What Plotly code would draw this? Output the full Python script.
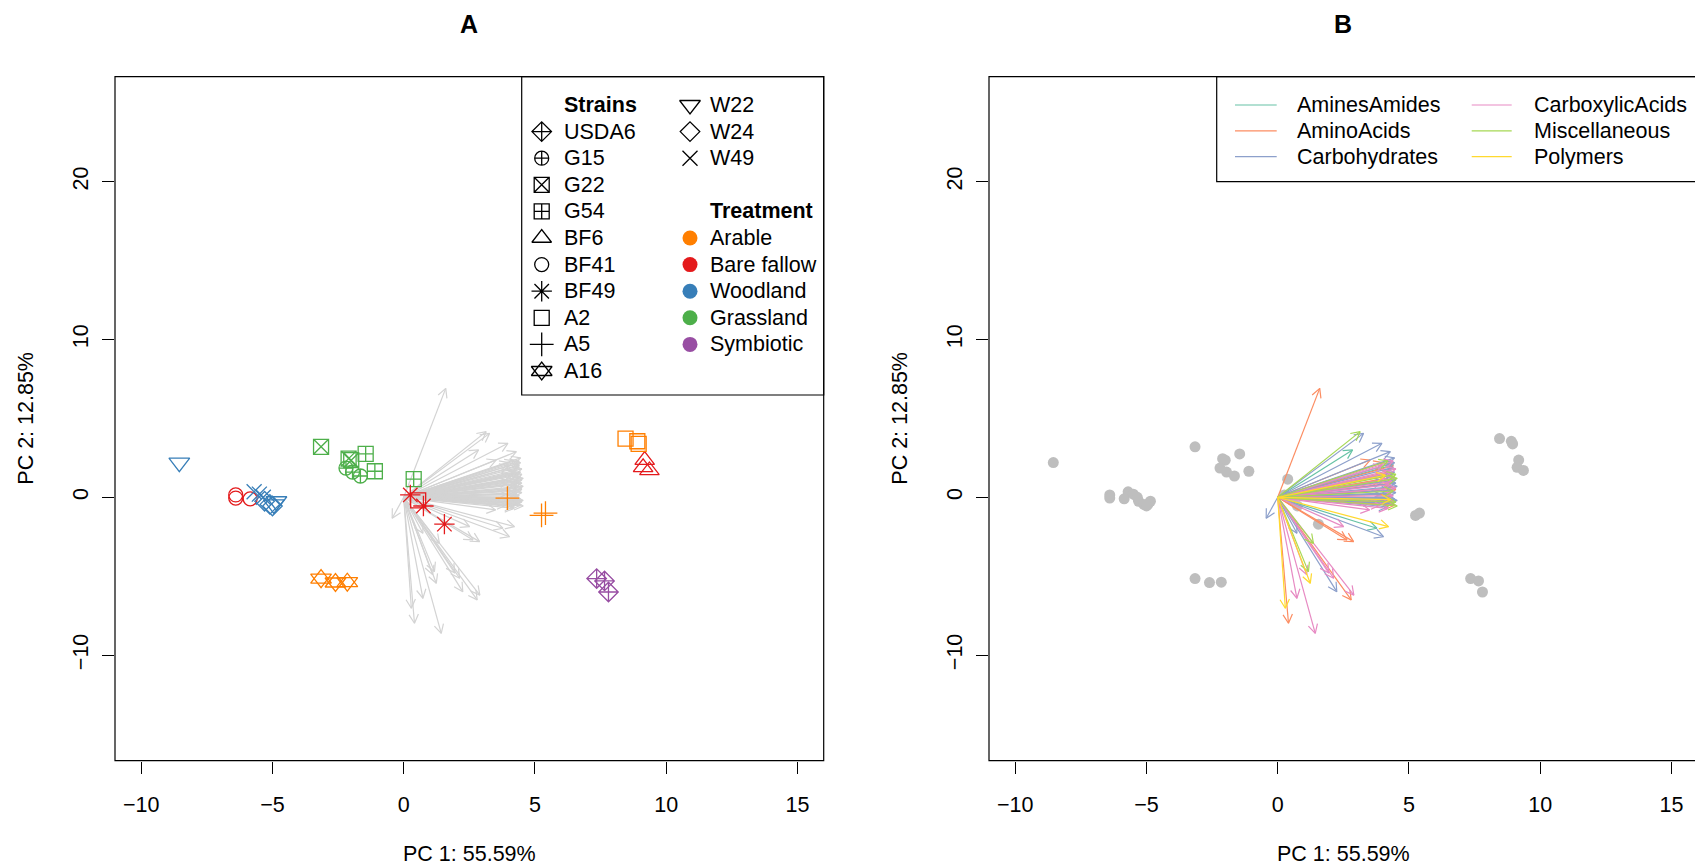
import math
import plotly.graph_objects as go

W, H = 1695, 868
FONT = "Liberation Sans, Arial, sans-serif"

# ---------------- data: sample scores ----------------
pc1 = [-8.55, -4.95, -4.85, -5.30, -5.10, -5.00, -5.70, -5.50, -5.35,
       -6.40, -6.40, -5.85,
       -3.15, -2.10, -2.00, -1.45, -1.10, 0.38, -2.20, -1.95, -1.65,
       -3.15, -2.60, -2.15,
       0.25, 0.75, 1.55, 0.55,
       3.95, 5.25, 5.40,
       8.45, 8.90, 8.95,
       9.18, 9.12, 9.36,
       7.35, 7.65, 7.80]
pc2 = [2.20, -0.45, -0.25, -0.25, -0.45, -0.55, 0.35, 0.20, 0.00,
       0.15, -0.05, -0.10,
       3.20, 2.45, 2.35, 2.75, 1.65, 1.15, 1.85, 1.60, 1.35,
       -5.15, -5.40, -5.38,
       0.15, -0.55, -1.70, -0.20,
       -0.05, -1.15, -1.00,
       3.72, 3.55, 3.38,
       2.36, 1.90, 1.70,
       -5.15, -5.30, -6.00]
strain = ["W22", "W22", "W22", "W24", "W24", "W24", "W49", "W49", "W49",
          "BF41", "BF41", "BF41",
          "G22", "G22", "G22", "G54", "G54", "G54", "G15", "G15", "G15",
          "A16", "A16", "A16",
          "BF49", "BF49", "BF49", "A2",
          "A5", "A5", "A5",
          "A2", "A2", "A2",
          "BF6", "BF6", "BF6",
          "USDA6", "USDA6", "USDA6"]
treatment = ["Woodland"] * 9 + ["Bare fallow"] * 3 + ["Grassland"] * 9 + ["Arable"] * 3 + \
            ["Bare fallow"] * 4 + ["Arable"] * 6 + ["Bare fallow"] * 3 + ["Symbiotic"] * 3

strain_order = ["USDA6", "G15", "G22", "G54", "BF6", "BF41", "BF49", "A2", "A5", "A16",
                "W22", "W24", "W49"]
treat_order = ["Arable", "Bare fallow", "Woodland", "Grassland", "Symbiotic"]

# ---------------- data: substrate loadings (arrow tips) ----------------
load_cat = []
load_x = []
load_y = []

def add(cat, pts):
    for (a, b) in pts:
        load_cat.append(cat); load_x.append(a); load_y.append(b)

add("AminesAmides", [(2.85, 3.00), (4.35, 1.50), (4.30, 0.60), (4.25, -0.40),
                     (3.78, -1.96), (4.40, 2.05), (3.60, -0.30)])
add("AminoAcids", [(1.60, 6.90), (3.52, 2.36), (4.40, 2.00), (4.45, 1.30), (4.50, 0.50),
                   (4.40, -0.20), (4.30, 0.90), (4.20, 1.60), (2.89, -2.81), (2.80, -6.50),
                   (0.41, -7.98), (4.00, 2.20), (4.45, -0.50), (4.30, 0.20), (2.64, -2.70),
                   (3.90, 1.10), (4.10, -0.30)])
add("Carbohydrates", [(3.27, 4.05), (3.97, 3.42), (4.29, 2.89), (4.45, 2.50), (4.40, 1.90),
                      (4.50, 1.10), (4.55, 0.70), (4.50, 0.30), (4.45, -0.10), (4.40, -0.40),
                      (4.35, 0.00), (4.03, -2.50), (-0.44, -1.33), (0.73, -2.28), (2.25, -5.98),
                      (4.40, 1.50), (4.30, 0.45), (4.20, -0.60), (4.00, 1.00), (3.90, 0.20),
                      (4.45, 2.20), (4.50, 0.90), (4.45, 1.60), (4.55, -0.20)])
add("CarboxylicAcids", [(4.40, 2.30), (4.50, 1.80), (4.40, 1.20), (4.30, 0.80), (4.20, -0.70),
                        (2.51, -1.86), (2.13, -5.13), (0.73, -6.40), (1.43, -8.62), (2.90, -6.20),
                        (1.95, -4.80), (4.40, 0.10), (4.30, 1.60), (3.90, -0.50), (4.00, 2.00),
                        (4.45, -0.30), (1.10, -4.90), (4.35, 1.00), (3.50, -0.80), (4.50, 0.60)])
add("Miscellaneous", [(3.14, 4.16), (4.50, 1.45), (4.55, 1.20), (4.50, -0.30), (4.55, -0.55),
                      (1.36, -2.92), (1.17, -4.71), (4.40, 0.40), (4.20, 2.30)])
add("Polymers", [(4.22, -1.86), (1.24, -5.45), (0.29, -7.03), (4.10, 1.40), (4.30, -0.15)])

cat_order = ["AminesAmides", "AminoAcids", "Carbohydrates", "CarboxylicAcids",
             "Miscellaneous", "Polymers"]

# ---------------- styles ----------------
treat_col = {"Arable": "#FF7F00", "Bare fallow": "#E41A1C", "Woodland": "#377EB8",
             "Grassland": "#4DAF4A", "Symbiotic": "#984EA3"}
cat_col = {"AminesAmides": "#66C2A5", "AminoAcids": "#FC8D62", "Carbohydrates": "#8DA0CB",
           "CarboxylicAcids": "#E78AC3", "Miscellaneous": "#A6D854", "Polymers": "#FFD92F"}
# list of (plotly symbol, size) per strain (A16 = two overlaid triangles)
sym = {"USDA6": [("diamond-cross-open", 15)], "G15": [("circle-cross-open", 14)],
       "G22": [("square-x-open", 15)], "G54": [("square-cross-open", 15)],
       "BF6": [("triangle-up-open", 17)], "BF41": [("circle-open", 14)],
       "BF49": [("asterisk-open", 17)], "A2": [("square-open", 15)],
       "A5": [("cross-thin-open", 17)],
       "A16": [("triangle-up-open", 18), ("triangle-down-open", 18)],
       "W22": [("triangle-down-open", 18)], "W24": [("diamond-open", 15)],
       "W49": [("x-thin-open", 15)]}

# ---------------- geometry (pixels) ----------------
TOP, BOT = 76.7, 760.7
AL, AR = 115.0, 823.7
BL = 989.0
XR = [-11.0, 16.0]
YR = [-16.69, 26.65]
SX = (AR - AL) / (XR[1] - XR[0])
SY = (BOT - TOP) / (YR[1] - YR[0])
XR_B = [XR[0], XR[0] + (W - BL) / SX]

ydom = [1 - BOT / H, 1 - TOP / H]


def arrow_path(xs, ys, L=10.0, ang=math.radians(28)):
    px, py = [], []
    for x, y in zip(xs, ys):
        gx, gy = x * SX, y * SY
        n = math.hypot(gx, gy)
        ux, uy = -gx / n, -gy / n
        px += [0, x, None]
        py += [0, y, None]
        for s in (1, -1):
            c, si = math.cos(s * ang), math.sin(s * ang)
            hx = c * ux - si * uy
            hy = si * ux + c * uy
            px.append(x + L * hx / SX)
            py.append(y + L * hy / SY)
            if s == 1:
                px.append(x); py.append(y)
        px.append(None); py.append(None)
    return px, py


fig = go.Figure()

# ---- Panel A: grey arrows ----
ax_, ay_ = arrow_path(load_x, load_y)
fig.add_trace(go.Scatter(x=ax_, y=ay_, mode="lines", line=dict(color="#D3D3D3", width=1.2),
                         xaxis="x", yaxis="y", hoverinfo="skip", showlegend=False))

# ---- Panel A: points ----
for st in strain_order:
    for tr in treat_order:
        idx = [i for i in range(len(pc1)) if strain[i] == st and treatment[i] == tr]
        if not idx:
            continue
        for (s, sz) in sym[st]:
            fig.add_trace(go.Scatter(
                x=[pc1[i] for i in idx], y=[pc2[i] for i in idx], mode="markers",
                marker=dict(symbol=s, size=sz, color=treat_col[tr],
                            line=dict(color=treat_col[tr], width=1.3)),
                xaxis="x", yaxis="y", showlegend=False))

# ---- Panel B: grey points then coloured arrows ----
fig.add_trace(go.Scatter(x=pc1, y=pc2, mode="markers",
                         marker=dict(symbol="circle", size=11, color="#BEBEBE"),
                         xaxis="x2", yaxis="y2", showlegend=False))
for c in cat_order:
    xs = [load_x[i] for i in range(len(load_x)) if load_cat[i] == c]
    ys = [load_y[i] for i in range(len(load_y)) if load_cat[i] == c]
    px, py = arrow_path(xs, ys)
    fig.add_trace(go.Scatter(x=px, y=py, mode="lines", line=dict(color=cat_col[c], width=1.2),
                             xaxis="x2", yaxis="y2", hoverinfo="skip", showlegend=False))

# ---- legend A (pixel overlay axis) ----
ROW = 26.6
R0 = 105.0
FS = 21.5
ann = []
col1_sym, col1_txt = 541.7, 561.7
col2_sym, col2_txt = 690.0, 708.3
ann.append(dict(x=col1_txt, y=R0, text="<b>Strains</b>"))
col1 = strain_order[:10]
col2 = strain_order[10:]
for k, st in enumerate(col1):
    yy = R0 + ROW * (k + 1)
    for (s, sz) in sym[st]:
        fig.add_trace(go.Scatter(x=[col1_sym], y=[yy], mode="markers",
                                 marker=dict(symbol=s, size=sz, color="black",
                                             line=dict(color="black", width=1.3)),
                                 xaxis="x3", yaxis="y3", showlegend=False))
    ann.append(dict(x=col1_txt, y=yy, text=st))
for k, st in enumerate(col2):
    yy = R0 + ROW * k
    for (s, sz) in sym[st]:
        fig.add_trace(go.Scatter(x=[col2_sym], y=[yy], mode="markers",
                                 marker=dict(symbol=s, size=sz, color="black",
                                             line=dict(color="black", width=1.3)),
                                 xaxis="x3", yaxis="y3", showlegend=False))
    ann.append(dict(x=col2_txt, y=yy, text=st))
ann.append(dict(x=col2_txt, y=R0 + ROW * 4, text="<b>Treatment</b>"))
for k, tr in enumerate(treat_order):
    yy = R0 + ROW * (k + 5)
    fig.add_trace(go.Scatter(x=[col2_sym], y=[yy], mode="markers",
                             marker=dict(symbol="circle", size=15, color=treat_col[tr]),
                             xaxis="x3", yaxis="y3", showlegend=False))
    ann.append(dict(x=col2_txt, y=yy, text=tr))

# ---- legend B ----
shapes = []
LR = 25.8
for k, c in enumerate(cat_order):
    col = k // 3
    row = k % 3
    yy = 105.0 + LR * row
    x0, x1, xt = (1235.0, 1276.7, 1295.0) if col == 0 else (1471.7, 1511.7, 1531.7)
    shapes.append(dict(type="line", xref="x3", yref="y3", x0=x0, x1=x1, y0=yy, y1=yy,
                       line=dict(color=cat_col[c], width=1.2)))
    ann.append(dict(x=xt, y=yy, text=c))

for a in ann:
    a.update(xref="x3", yref="y3", xanchor="left", yanchor="middle", showarrow=False,
             font=dict(family=FONT, size=FS, color="black"))

# boxes
shapes += [
    dict(type="rect", xref="x3", yref="y3", x0=AL, x1=AR, y0=TOP, y1=BOT,
         line=dict(color="black", width=1.2)),
    dict(type="rect", xref="x3", yref="y3", x0=BL, x1=W + 3, y0=TOP, y1=BOT,
         line=dict(color="black", width=1.2)),
    dict(type="rect", xref="x3", yref="y3", x0=521.7, x1=AR, y0=TOP, y1=395.0,
         line=dict(color="black", width=1.2)),
    dict(type="rect", xref="x3", yref="y3", x0=1216.7, x1=W + 3, y0=TOP, y1=181.7,
         line=dict(color="black", width=1.2)),
]

# titles and axis labels
def txt(x, y, t, size=FS, angle=0, bold=False):
    return dict(x=x, y=y, xref="x3", yref="y3", text=("<b>%s</b>" % t) if bold else t,
                showarrow=False, xanchor="center", yanchor="middle", textangle=angle,
                font=dict(family=FONT, size=size, color="black"))

ann += [
    txt((AL + AR) / 2, 24, "A", size=25, bold=True),
    txt((BL + BL + (AR - AL)) / 2, 24, "B", size=25, bold=True),
    txt((AL + AR) / 2, 854, "PC 1: 55.59%"),
    txt((BL + BL + (AR - AL)) / 2, 854, "PC 1: 55.59%"),
    txt(26, (TOP + BOT) / 2, "PC 2: 12.85%", angle=-90),
    txt(BL - 89, (TOP + BOT) / 2, "PC 2: 12.85%", angle=-90),
]

axis_common = dict(showgrid=False, zeroline=False, showline=False, ticks="outside",
                   ticklen=12, tickwidth=1.2, tickcolor="black",
                   tickfont=dict(family=FONT, size=FS, color="black"), fixedrange=True)

fig.update_layout(
    width=W, height=H, margin=dict(l=0, r=0, t=0, b=0),
    paper_bgcolor="white", plot_bgcolor="rgba(0,0,0,0)",
    showlegend=False,
    xaxis=dict(domain=[AL / W, AR / W], range=XR, anchor="y",
               tickvals=[-10, -5, 0, 5, 10, 15], ticklabelstandoff=12, **axis_common),
    yaxis=dict(domain=ydom, range=YR, anchor="x", tickvals=[-10, 0, 10, 20],
               tickangle=-90, ticklabelstandoff=5, **axis_common),
    xaxis2=dict(domain=[BL / W, 1.0], range=XR_B, anchor="y2",
                tickvals=[-10, -5, 0, 5, 10, 15], ticklabelstandoff=12, **axis_common),
    yaxis2=dict(domain=ydom, range=YR, anchor="x2", tickvals=[-10, 0, 10, 20],
                tickangle=-90, ticklabelstandoff=5, **axis_common),
    xaxis3=dict(domain=[0, 1], range=[0, W], anchor="y3", visible=False, fixedrange=True),
    yaxis3=dict(domain=[0, 1], range=[H, 0], anchor="x3", visible=False, fixedrange=True),
    shapes=shapes, annotations=ann,
)

fig.write_html("out.html", config={"displayModeBar": False},
               post_script="document.body.style.margin='0px';document.body.style.overflow='hidden';")
